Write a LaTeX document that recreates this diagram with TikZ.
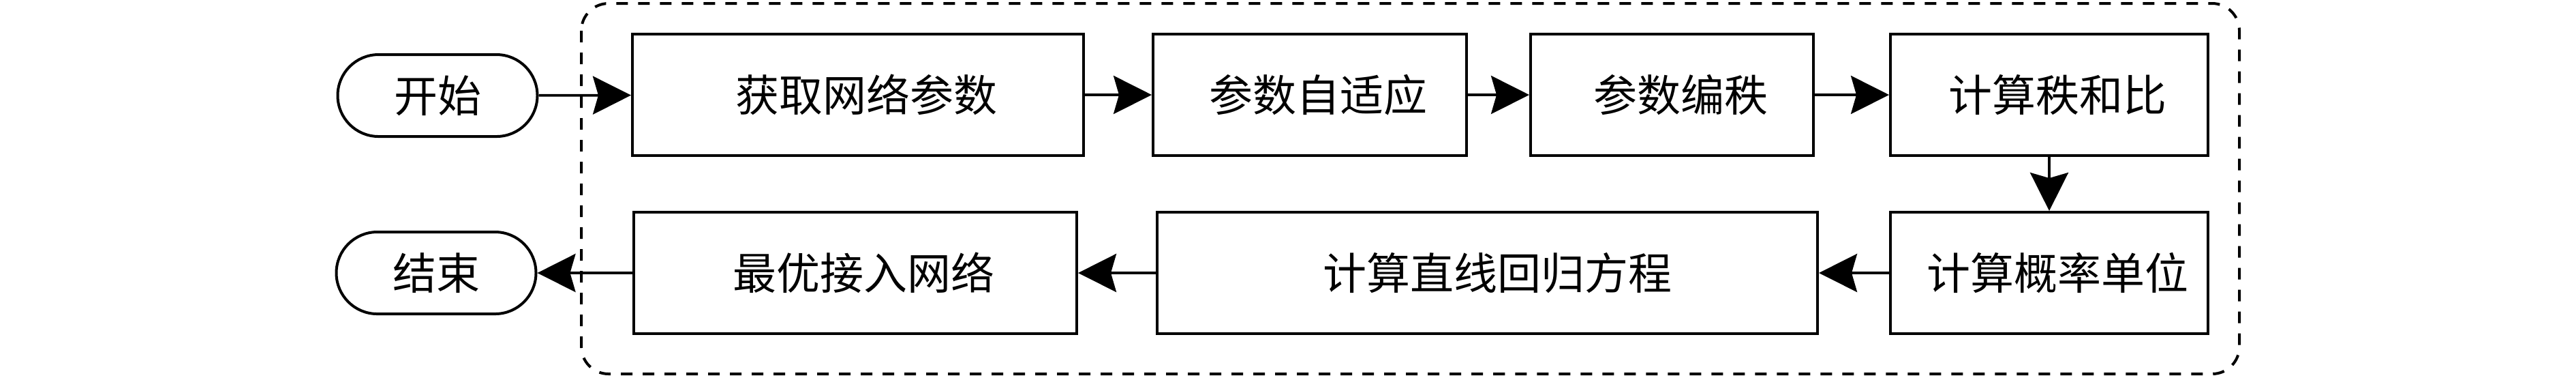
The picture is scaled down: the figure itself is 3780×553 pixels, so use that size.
\documentclass[tikz,border=0pt]{standalone}
\usepackage{fontspec}
\newfontfamily\cjk{Noto Sans CJK SC}
\usetikzlibrary{arrows.meta}
\begin{document}
\begin{tikzpicture}[x=0.2pt,y=-0.2pt,
  every node/.style={font=\cjk\fontsize{12.8pt}{15pt}\selectfont, inner sep=0pt},
  procbox/.style={draw, line width=0.8pt, rectangle, minimum height=35.6pt},
  termbox/.style={draw, line width=0.8pt, rectangle, rounded corners=12pt, minimum width=58.6pt, minimum height=24pt},
  flow/.style={line width=0.75pt, -{Stealth[length=11.2pt,width=11.2pt,inset=1.6pt]}},
  groupbox/.style={draw, line width=0.8pt, dash pattern=on 3.4pt off 3pt, rounded corners=8pt}
]
\useasboundingbox (0,0) rectangle (3780,553);
\draw[groupbox] (853,5) rectangle (3286,548);

\node[termbox] (start) at (642,140) {开始};
\node[procbox, minimum width=132.4pt] (b1) at (1259,139) {\hspace*{5pt}获取网络参数};
\node[procbox, minimum width=92pt] (b2) at (1922,139) {\hspace*{5pt}参数自适应};
\node[procbox, minimum width=83pt] (b3) at (2453.5,139) {\hspace*{5pt}参数编秩};
\node[procbox, minimum width=93.2pt] (b4) at (3007,139) {\hspace*{5pt}计算秩和比};
\node[procbox, minimum width=93.2pt] (b5) at (3007,400) {\hspace*{5pt}计算概率单位};
\node[procbox, minimum width=193.8pt] (b6) at (2182.5,400) {\hspace*{6pt}计算直线回归方程};
\node[procbox, minimum width=130pt] (b7) at (1255,400) {\hspace*{5pt}最优接入网络};
\node[termbox] (stop) at (640,400) {结束};

\draw[flow] (start) -- (b1);
\draw[flow] (b1) -- (b2);
\draw[flow] (b2) -- (b3);
\draw[flow] (b3) -- (b4);
\draw[flow] (b4) -- (b5);
\draw[flow] (b5) -- (b6);
\draw[flow] (b6) -- (b7);
\draw[flow] (b7) -- (stop);
\end{tikzpicture}
\end{document}
